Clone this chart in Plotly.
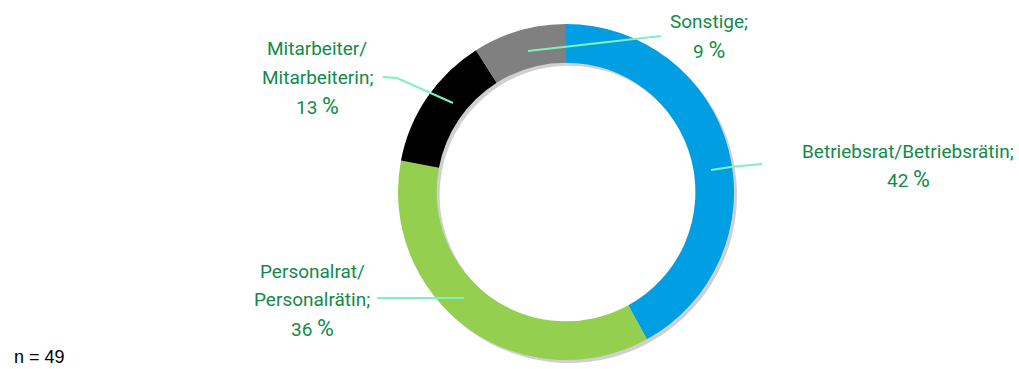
import plotly.graph_objects as go

# Data
categories = ["Betriebsrat/Betriebsrätin", "Personalrat/Personalrätin", "Mitarbeiter/Mitarbeiterin", "Sonstige"]
shares = [42, 36, 13, 9]
slice_colors = ["#009fe3", "#95cf4f", "#000000", "#808080"]
sample_note = "n = 49"

W, H = 1019, 369
CX, CY, R = 566, 192, 168   # ring centre and outer radius in px
HOLE = 0.77

TEXT_COLOR = "#128a4a"
LEADER_COLOR = "#7ef2b8"
FONT = "Roboto"


def px(x, y):
    return x / W, 1 - y / H


def domain(cx, cy, r):
    return dict(x=[(cx - r) / W, (cx + r) / W], y=[(H - cy - r) / H, (H - cy + r) / H])


def pct(v):
    return f"{v} <span style='font-size:23px'>%</span>"


fig = go.Figure()

# soft drop shadow of the ring
fig.add_trace(go.Pie(
    values=shares, labels=categories, sort=False, direction="clockwise",
    hole=HOLE, domain=domain(CX + 3, CY + 3, R),
    marker=dict(colors=["rgba(150,150,150,0.45)"] * len(shares), line=dict(width=0)),
    textinfo="none", hoverinfo="skip", showlegend=False,
))

fig.add_trace(go.Pie(
    values=shares, labels=categories, sort=False, direction="clockwise",
    hole=HOLE, domain=domain(CX, CY, R),
    marker=dict(colors=slice_colors, line=dict(width=0)),
    textinfo="none", showlegend=False,
))

# label lines: (lines of text, centre x, first line centre y)
label_layout = [
    (["Betriebsrat/Betriebsrätin;", pct(shares[0])], 908, 151),
    (["Personalrat/", "Personalrätin;", pct(shares[1])], 312, 271),
    (["Mitarbeiter/", "Mitarbeiterin;", pct(shares[2])], 317, 49),
    (["Sonstige;", pct(shares[3])], 709, 22),
]
LINE_STEP = 28.5

annotations = []
for lines, x, y0 in label_layout:
    for i, line in enumerate(lines):
        ax, ay = px(x, y0 + i * LINE_STEP)
        annotations.append(dict(
            x=ax, y=ay, xref="paper", yref="paper", text=line, showarrow=False,
            xanchor="center", yanchor="middle",
            font=dict(family=FONT, size=19, color=TEXT_COLOR),
        ))

ax, ay = px(12, 357)
annotations.append(dict(
    x=ax, y=ay, xref="paper", yref="paper", text=sample_note, showarrow=False,
    xanchor="left", yanchor="middle",
    font=dict(family="Liberation Sans, Arial", size=18, color="#000000"),
))

leaders = [
    [(711, 170), (731, 167), (762, 164)],
    [(377, 298), (464, 298)],
    [(383, 77), (397, 78), (453, 103)],
    [(528, 51), (661, 36)],
]
shapes = []
for pts in leaders:
    path = ""
    for j, (x, y) in enumerate(pts):
        u, v = px(x, y)
        path += ("M" if j == 0 else "L") + f"{u},{v} "
    shapes.append(dict(type="path", path=path.strip(), xref="paper", yref="paper",
                       line=dict(color=LEADER_COLOR, width=2)))

fig.update_layout(
    width=W, height=H,
    margin=dict(l=0, r=0, t=0, b=0),
    paper_bgcolor="white", plot_bgcolor="white",
    annotations=annotations, shapes=shapes,
    showlegend=False,
)

fig.write_html("out.html")
